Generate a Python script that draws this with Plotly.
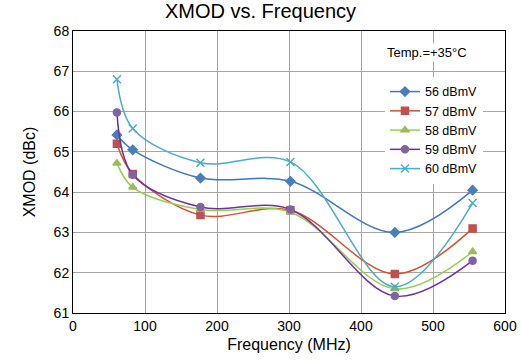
import plotly.graph_objects as go

freq = [61, 83, 177, 302, 447, 555]
s56 = [65.42, 65.05, 64.35, 64.27, 63.00, 64.05]
s57 = [65.20, 64.45, 63.43, 63.55, 61.97, 63.10]
s58 = [64.72, 64.12, 63.57, 63.50, 61.60, 62.52]
s59 = [65.98, 64.43, 63.63, 63.57, 61.42, 62.30]
s60 = [66.80, 65.58, 64.73, 64.75, 61.65, 63.73]
names = ["56 dBmV", "57 dBmV", "58 dBmV", "59 dBmV", "60 dBmV"]
series = [s56, s57, s58, s59, s60]
marker_colors = ["#4A7EBB", "#C0504D", "#9BBB59", "#8064A2", "#4BACC6"]
line_colors = ["#3F76C0", "#D8502A", "#92D050", "#7030A0", "#4BACC6"]
markers = ["diamond", "square", "triangle-up", "circle", "x-thin"]

fig = go.Figure()
for n, s, lc, mc, m in zip(names, series, line_colors, marker_colors, markers):
    fig.add_trace(go.Scatter(
        x=freq, y=s, name=n, mode="lines+markers",
        line=dict(color=lc, width=1.5, shape="spline", smoothing=1.0),
        marker=dict(symbol=m, size=7 if m != "x-thin" else 8, color=mc,
                    line=dict(color=mc, width=1.5)),
    ))

fig.update_layout(
    width=521, height=362,
    margin=dict(l=73, r=16, t=31, b=49),
    paper_bgcolor="white", plot_bgcolor="white",
    font=dict(family="Liberation Sans, Arial, sans-serif", color="#000000", size=14),
    title=dict(text="XMOD vs. Frequency", x=0.5, xanchor="center", y=0.99, yanchor="top",
               font=dict(size=20)),
    showlegend=True,
    legend=dict(x=0.949, y=0.837, xanchor="right", yanchor="top",
                bgcolor="white", font=dict(size=12.5), itemwidth=30,
                tracegroupgap=2),
    xaxis=dict(range=[0, 600], dtick=100, showgrid=True, gridcolor="#A6A6A6", gridwidth=1,
               showline=True, linecolor="#000000", linewidth=1, mirror=True,
               ticks="", automargin=False,
               title=dict(text="Frequency (MHz)", font=dict(size=16), standoff=6),
               zeroline=False),
    yaxis=dict(range=[61, 68], dtick=1, showgrid=True, gridcolor="#A6A6A6", gridwidth=1,
               showline=True, linecolor="#000000", linewidth=1, mirror=True,
               ticks="", automargin=False,
               title=dict(text="XMOD (dBc)", font=dict(size=16), standoff=14),
               zeroline=False),
    annotations=[dict(text="Temp.=+35°C", x=0.916, y=0.925, xref="paper", yref="paper",
                      xanchor="right", yanchor="middle", showarrow=False,
                      font=dict(size=13), bgcolor="white")],
)

fig.write_html("out.html")
